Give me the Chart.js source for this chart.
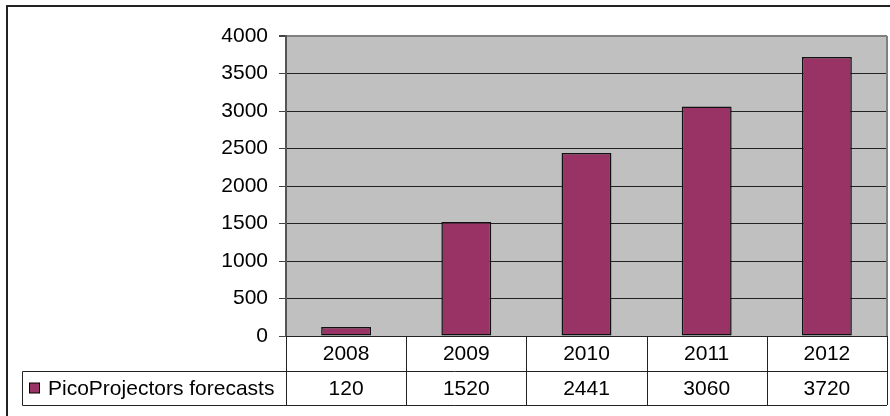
<!DOCTYPE html>
<html>
<head>
<meta charset="utf-8">
<script src="https://cdn.jsdelivr.net/npm/chart.js@4/dist/chart.umd.min.js"></script>
<style>
  html, body { margin: 0; padding: 0; background: #fff; }
  canvas { display: block; }
</style>
</head>
<body>
<canvas id="c" width="890" height="416"></canvas>
<script>
const categories = ['2008', '2009', '2010', '2011', '2012'];
const forecasts = [120, 1520, 2441, 3060, 3720];
const seriesLabel = 'PicoProjectors forecasts';
const yMin = 0;
const yMax = 4000;
const yStep = 500;

const FONT = '"Liberation Sans", Arial, sans-serif';
const BAR_COLOR = '#993366';

const tablePlugin = {
  id: 'tablePlugin',
  beforeDraw(chart) {
    const ctx = chart.ctx;
    const a = chart.chartArea;
    ctx.save();
    ctx.fillStyle = '#ffffff';
    ctx.fillRect(0, 0, chart.width, chart.height);
    ctx.fillStyle = '#c0c0c0';
    ctx.fillRect(a.left, a.top, a.right - a.left, a.bottom - a.top);
    ctx.restore();
  },
  afterDraw(chart) {
    const ctx = chart.ctx;
    const a = chart.chartArea;
    const xs = chart.scales.x;
    const n = categories.length;
    const colW = (a.right - a.left) / n;
    const row1Top = a.bottom;
    const row1Bot = a.bottom + 35;
    const row2Bot = row1Bot + 34;
    const legendLeft = 22;
    ctx.save();
    // plot right border
    ctx.strokeStyle = '#808080';
    ctx.lineWidth = 2;
    ctx.beginPath();
    ctx.moveTo(a.right, a.top);
    ctx.lineTo(a.right, a.bottom);
    ctx.stroke();

    // table lines
    ctx.strokeStyle = '#222';
    ctx.lineWidth = 1;
    ctx.beginPath();
    for (let i = 0; i <= n; i++) {
      const x = Math.round(a.left + i * colW) + 0.5;
      ctx.moveTo(x, row1Top);
      ctx.lineTo(x, row2Bot);
    }
    ctx.moveTo(legendLeft + 0.5, row1Bot + 0.5);
    ctx.lineTo(a.right, row1Bot + 0.5);
    ctx.moveTo(legendLeft + 0.5, row2Bot + 0.5);
    ctx.lineTo(a.right, row2Bot + 0.5);
    ctx.moveTo(legendLeft + 0.5, row1Bot + 0.5);
    ctx.lineTo(legendLeft + 0.5, row2Bot + 0.5);
    ctx.stroke();

    // texts
    ctx.fillStyle = '#000';
    ctx.font = '21px ' + FONT;
    ctx.textAlign = 'center';
    ctx.textBaseline = 'middle';
    for (let i = 0; i < n; i++) {
      const cx = xs.getPixelForValue(i);
      ctx.fillText(categories[i], cx, (row1Top + row1Bot) / 2 + 1);
      ctx.fillText(String(forecasts[i]), cx, (row1Bot + row2Bot) / 2 + 1);
    }
    // legend key
    const my = (row1Bot + row2Bot) / 2;
    ctx.fillStyle = BAR_COLOR;
    ctx.fillRect(29.5, my - 5, 10, 10);
    ctx.strokeStyle = '#000';
    ctx.strokeRect(29.5, my - 5, 10, 10);
    ctx.fillStyle = '#000';
    ctx.textAlign = 'left';
    ctx.fillText(seriesLabel, 48, my + 1);

    // outer frame
    ctx.strokeStyle = '#222';
    ctx.lineWidth = 2;
    ctx.beginPath();
    ctx.moveTo(7, chart.height + 5);
    ctx.lineTo(7, 6);
    ctx.lineTo(chart.width + 5, 6);
    ctx.stroke();
    ctx.restore();
  }
};

new Chart(document.getElementById('c'), {
  type: 'bar',
  data: {
    labels: categories,
    datasets: [{
      label: seriesLabel,
      data: forecasts,
      backgroundColor: BAR_COLOR,
      borderColor: '#111',
      borderWidth: 1.5,
      borderSkipped: false,
      categoryPercentage: 1,
      barPercentage: 0.415
    }]
  },
  options: {
    responsive: false,
    devicePixelRatio: 1,
    animation: false,
    layout: { padding: { left: 0, top: 36, right: 3, bottom: 80 } },
    plugins: {
      legend: { display: false },
      tooltip: { enabled: false },
      title: { display: false }
    },
    scales: {
      x: {
        type: 'category',
        display: false,
        offset: true,
        grid: { display: false }
      },
      y: {
        min: yMin,
        max: yMax,
        afterFit(scale) { scale.width = 286; },
        ticks: {
          stepSize: yStep,
          padding: 11,
          color: '#000',
          font: { family: FONT, size: 21 },
          callback: (v) => String(v)
        },
        grid: {
          color: (c) => (c.tick && c.tick.value === yMax) ? '#808080' : '#222',
          lineWidth: (c) => (c.tick && c.tick.value === yMax) ? 2 : 1,
          tickColor: '#444',
          tickLength: 7,
          drawTicks: true
        },
        border: { color: '#555', width: 2 }
      }
    }
  },
  plugins: [tablePlugin]
});
</script>
</body>
</html>
